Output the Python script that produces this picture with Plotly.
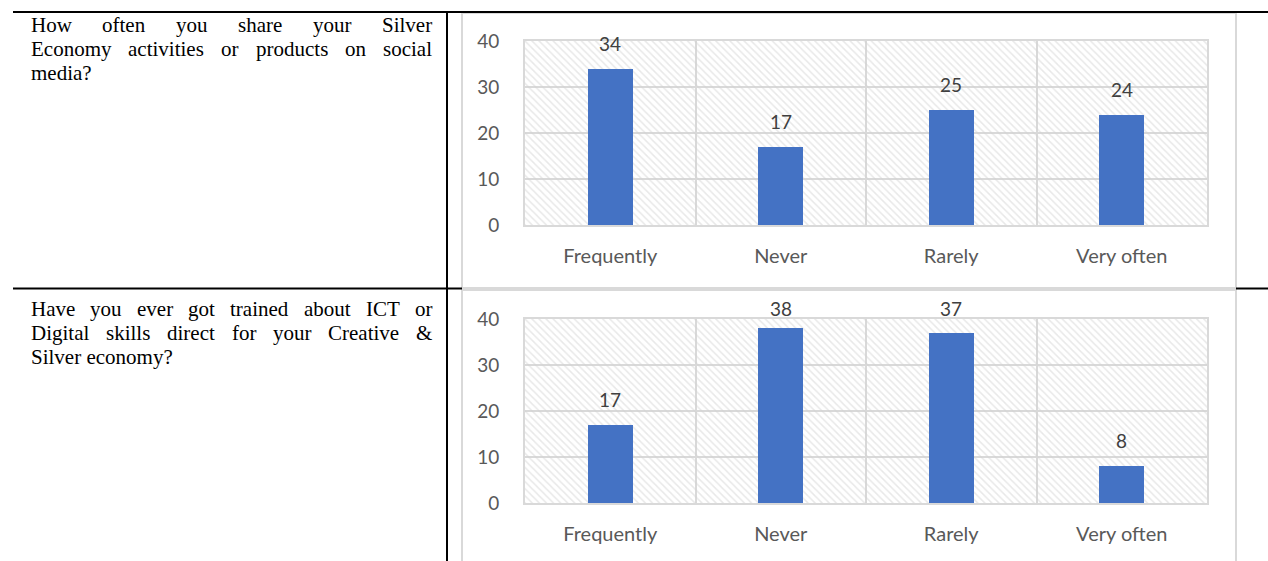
import plotly.graph_objects as go

# ---- data -------------------------------------------------------------
categories = ["Frequently", "Never", "Rarely", "Very often"]
share_values = [34, 17, 25, 24]
trained_values = [17, 38, 37, 8]
y_ticks = [0, 10, 20, 30, 40]
Y_MAX = 40

question_share = [
    "How often you share your Silver",
    "Economy activities or products on social",
    "media?",
]
question_trained = [
    "Have you ever got trained about ICT or",
    "Digital skills direct for your Creative &",
    "Silver economy?",
]

# ---- page geometry (pixels) --------------------------------------------
W, H = 1268, 561
BLUE = "#4472C4"
GRID = "#d9d9d9"
AXIS_TXT = "#595959"
LABEL_TXT = "#404040"
SANS = "Lato, 'Open Sans', sans-serif"
SERIF = "'Liberation Serif', 'Times New Roman', serif"
SERIF_SIZE = 21


def fx(px):
    return px / W


def fy(py):
    return 1 - py / H


# Times/Liberation Serif advance widths (per 1000 em) for justification
TIMES = {
    "a": 444, "b": 500, "c": 444, "d": 500, "e": 444, "f": 333, "g": 500,
    "h": 500, "i": 278, "j": 278, "k": 500, "l": 278, "m": 778, "n": 500,
    "o": 500, "p": 500, "q": 500, "r": 333, "s": 389, "t": 278, "u": 500,
    "v": 500, "w": 722, "x": 500, "y": 500, "z": 444,
    "A": 722, "B": 667, "C": 667, "D": 722, "E": 611, "F": 556, "G": 722,
    "H": 722, "I": 333, "J": 389, "K": 722, "L": 611, "M": 889, "N": 722,
    "O": 722, "P": 556, "Q": 722, "R": 667, "S": 556, "T": 611, "U": 722,
    "V": 722, "W": 944, "?": 444, "&": 778, " ": 250,
}


def word_width(word, size):
    return sum(TIMES.get(ch, 500) for ch in word) * size / 1000


def paragraph_annotations(lines, x0, x1, y_centers):
    """Justified paragraph: every line but the last is spread from x0 to x1."""
    anns = []
    for i, (line, yc) in enumerate(zip(lines, y_centers)):
        words = line.split(" ")
        if i == len(lines) - 1 or len(words) == 1:
            anns.append(dict(text=line, x=fx(x0), y=fy(yc), xanchor="left"))
            continue
        widths = [word_width(w, SERIF_SIZE) for w in words]
        gap = (x1 - x0 - sum(widths)) / (len(words) - 1)
        pos = x0
        for w, wd in zip(words, widths):
            anns.append(dict(text=w, x=fx(pos), y=fy(yc), xanchor="left"))
            pos += wd + gap
    for a in anns:
        a.update(xref="paper", yref="paper", yanchor="middle", showarrow=False,
                 font=dict(family=SERIF, size=SERIF_SIZE, color="#000000"))
    return anns


# (x axis, y axis, values, plot top px, plot bottom px, chart frame top px)
panels = [
    ("x", "y", share_values, 41, 225, 13),
    ("x2", "y2", trained_values, 319, 503, 290),
]

fig = go.Figure()
annotations = []
LABEL_GAP = 12      # px between bar top and its value label
LABEL_H = 24        # approximate height of a value label box
for xa, ya, values, top, bottom, frame_top in panels:
    # hatched plot-area fill
    fig.add_trace(go.Bar(
        x=categories, y=[Y_MAX] * len(categories), width=1.0,
        xaxis=xa, yaxis=ya, hoverinfo="skip", showlegend=False,
        marker=dict(color="rgba(0,0,0,0)", line=dict(width=0),
                    pattern=dict(shape="\\", fgcolor="#d2d2d2",
                                 bgcolor="rgba(0,0,0,0)", size=5, solidity=0.3)),
    ))
    fig.add_trace(go.Bar(
        x=categories, y=values, width=0.265,
        xaxis=xa, yaxis=ya, showlegend=False,
        marker=dict(color=BLUE, line=dict(width=0)),
    ))
    px_per_unit = (bottom - top) / Y_MAX
    for c, v in zip(categories, values):
        # keep the label inside the chart frame
        bar_top = bottom - v * px_per_unit
        shift = min(LABEL_GAP, bar_top - LABEL_H - (frame_top + 8))
        annotations.append(dict(
            x=c, y=v, xref=xa, yref=ya, text=str(v), showarrow=False,
            yanchor="bottom", yshift=shift,
            font=dict(family=SANS, size=19, color=LABEL_TXT),
        ))

axis_common_x = dict(
    type="category", tickson="boundaries", showgrid=True, gridcolor=GRID,
    gridwidth=2, showline=True, mirror=True, linecolor=GRID, linewidth=2,
    ticks="", ticklabelstandoff=12, range=[-0.5, 3.5], automargin=False,
    tickfont=dict(family=SANS, size=20, color=AXIS_TXT), fixedrange=True,
)
axis_common_y = dict(
    range=[0, Y_MAX], tickvals=y_ticks, showgrid=True, gridcolor=GRID,
    gridwidth=2, zeroline=False, showline=True, mirror=True, linecolor=GRID,
    linewidth=2, ticks="", ticklabelstandoff=20, automargin=False,
    tickfont=dict(family=SANS, size=19, color=AXIS_TXT), fixedrange=True,
)

shapes = []
# table rules
black = dict(color="#000000", width=2)
shapes.append(dict(type="line", xref="paper", yref="paper",
                   x0=fx(13), x1=fx(1268), y0=fy(12), y1=fy(12), line=black))
shapes.append(dict(type="line", xref="paper", yref="paper",
                   x0=fx(447), x1=fx(447), y0=fy(12), y1=fy(561), line=black))
shapes.append(dict(type="line", xref="paper", yref="paper",
                   x0=fx(13), x1=fx(462), y0=fy(288.5), y1=fy(288.5), line=black))
shapes.append(dict(type="line", xref="paper", yref="paper",
                   x0=fx(1236), x1=fx(1268), y0=fy(288.5), y1=fy(288.5), line=black))
# chart frames
frame = dict(color=GRID, width=2)
shapes.append(dict(type="rect", xref="paper", yref="paper", x0=fx(462), x1=fx(1236),
                   y0=fy(288), y1=fy(13), line=frame, layer="below"))
shapes.append(dict(type="rect", xref="paper", yref="paper", x0=fx(462), x1=fx(1236),
                   y0=fy(575), y1=fy(290), line=frame, layer="below"))

annotations += paragraph_annotations(question_share, 29, 430, [25, 49, 73])
annotations += paragraph_annotations(question_trained, 29, 430, [309, 333, 357])

fig.update_layout(
    width=W, height=H, margin=dict(l=0, r=0, t=0, b=0, autoexpand=False),
    paper_bgcolor="white", plot_bgcolor="white",
    barmode="overlay", bargap=0,
    xaxis=dict(domain=[fx(525), fx(1207)], anchor="y", **axis_common_x),
    yaxis=dict(domain=[fy(225), fy(41)], anchor="x", **axis_common_y),
    xaxis2=dict(domain=[fx(525), fx(1207)], anchor="y2", **axis_common_x),
    yaxis2=dict(domain=[fy(503), fy(319)], anchor="x2", **axis_common_y),
    shapes=shapes, annotations=annotations,
)

fig.write_html("out.html")
